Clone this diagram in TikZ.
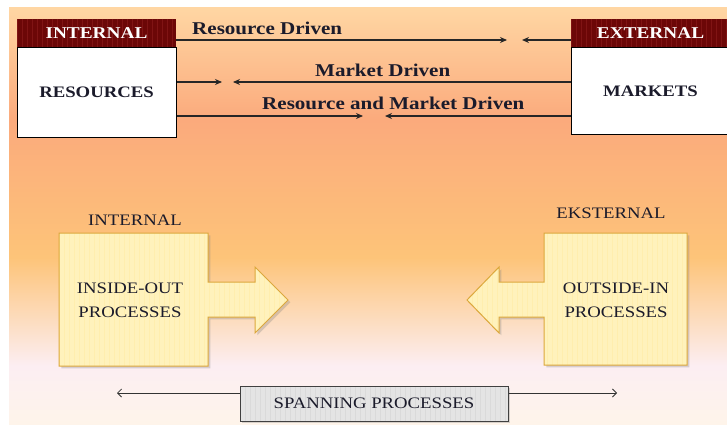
\documentclass[tikz,border=0pt]{standalone}
\usepackage{fontspec}
\setmainfont{Liberation Serif}[FakeStretch=1.17]
\usetikzlibrary{arrows.meta,shadows}
\definecolor{headred}{HTML}{6C0707}
\definecolor{stripered}{HTML}{801414}
\definecolor{procfill}{HTML}{FFF2BC}
\definecolor{procstripe}{HTML}{FFEEAE}
\definecolor{procline}{HTML}{DCA83C}
\definecolor{spanfill}{HTML}{E4E4E4}
\definecolor{spanstripe}{HTML}{DADADA}
\definecolor{inkblue}{HTML}{1B1B2B}
\definecolor{bgA}{HTML}{FEF4EA}
\definecolor{bgB}{HTML}{FCEEF2}
\definecolor{bgC}{HTML}{FDC479}
\definecolor{bgD}{HTML}{FBAA7C}
\definecolor{bgE}{HTML}{FFD6A3}
\pgfdeclareverticalshading{bgshade}{100bp}{color(0bp)=(bgA); color(25bp)=(bgA); color(32bp)=(bgB); color(45bp)=(bgC); color(61.5bp)=(bgD); color(75bp)=(bgE); color(100bp)=(bgE)}
\tikzset{
  stripes/.style={path picture={
    \foreach \s in {0,5,...,330}
      \draw [#1, line width=1pt] ([xshift=\s pt]path picture bounding box.north west) -- ([xshift=\s pt]path picture bounding box.south west);}},
  headbox/.style={fill=headred, stripes=stripered, minimum width=159pt, minimum height=29pt, inner sep=0pt, text=white, font=\bfseries\fontsize{16.5}{18}\selectfont},
  bodybox/.style={fill=white, draw=black, line width=1pt, minimum width=159pt, minimum height=89pt, inner sep=0pt, text=inkblue, font=\bfseries\fontsize{16}{18}\selectfont},
  flow/.style={line width=1.4pt, draw=black!85, -{Stealth[length=7pt,width=6pt]}},
  flowlbl/.style={inner sep=0pt, text=inkblue, font=\bfseries\fontsize{18}{20}\selectfont},
  procshape/.style={fill=procfill, stripes=procstripe, draw=procline, line width=1pt, drop shadow={opacity=0.3}},
  proclbl/.style={inner sep=0pt, align=center, text=inkblue, font=\fontsize{16}{24}\selectfont},
  spanbox/.style={fill=spanfill, stripes=spanstripe, draw=black!75, line width=1pt, minimum width=268pt, minimum height=35pt, inner sep=0pt, text=inkblue, font=\fontsize{16}{18}\selectfont, drop shadow={opacity=0.3}},
  spanarrow/.style={line width=0.8pt, draw=black!80, -{Straight Barb[length=4pt,width=8pt]}}
}
\begin{document}
\begin{tikzpicture}
[x=1pt, y=-1pt]
\useasboundingbox (0,0) rectangle (727,428);
\fill [shading=bgshade] (9,8) rectangle (727,424);
\node [headbox] (inthead) at (96.5,33.5) {INTERNAL};
\node [bodybox] (resbox) at (96.5,92.5) {RESOURCES};
\node [headbox] (exthead) at (650.5,33.5) {EXTERNAL};
\node [bodybox, minimum height=86pt] (mktbox) at (650.5,91) {MARKETS};
\coordinate (rdin) at (507,40);
\coordinate (rdout) at (522,40);
\coordinate (mdin) at (222,82);
\coordinate (mdout) at (233,82);
\coordinate (rmdin) at (363,116);
\coordinate (rmdout) at (385,116);
\draw [flow] (inthead.east |- rdin) -- (rdin);
\draw [flow] (exthead.west |- rdout) -- (rdout);
\draw [flow] (resbox.east |- mdin) -- (mdin);
\draw [flow] (mktbox.west |- mdout) -- (mdout);
\draw [flow] (resbox.east |- rmdin) -- (rmdin);
\draw [flow] (mktbox.west |- rmdout) -- (rmdout);
\node [flowlbl, anchor=base west] (rdlbl) at (192,35) {Resource Driven};
\node [flowlbl, anchor=base west] (mdlbl) at (315,76) {Market Driven};
\node [flowlbl, anchor=base west] (rmdlbl) at (262,109) {Resource and Market Driven};
\draw [procshape] (59,233) -- (208,233) -- (208,282) -- (255,282) -- (255,267) -- (288,300) -- (255,333) -- (255,317) -- (208,317) -- (208,366) -- (59,366) -- cycle;
\draw [procshape] (687,233) -- (544,233) -- (544,282) -- (499,282) -- (499,267) -- (467,300) -- (499,333) -- (499,317) -- (544,317) -- (544,365) -- (687,365) -- cycle;
\node [proclbl] (intlbl) at (135,220) {INTERNAL};
\node [proclbl] (extlbl) at (611,213) {EKSTERNAL};
\node [proclbl] (inout) at (130,300) {INSIDE-OUT\\PROCESSES};
\node [proclbl] (outin) at (616,300) {OUTSIDE-IN\\PROCESSES};
\node [spanbox] (spanning) at (374,403.5) {SPANNING PROCESSES};
\coordinate (spanl) at (117,393);
\coordinate (spanr) at (617,393);
\draw [spanarrow] (spanning.west |- spanl) -- (spanl);
\draw [spanarrow] (spanning.east |- spanr) -- (spanr);
\end{tikzpicture}
\end{document}
